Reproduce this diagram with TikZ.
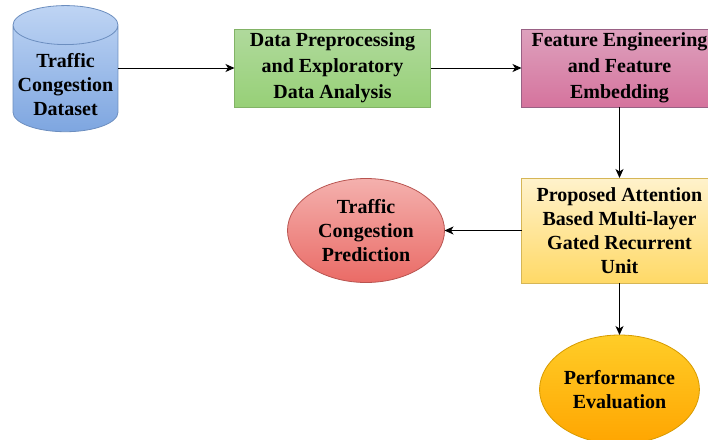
\documentclass[tikz,border=0pt]{standalone}
\usepackage{fontspec}
\setmainfont{Liberation Serif}
\usetikzlibrary{positioning,arrows.meta,shapes.geometric}

\definecolor{cylfill}{HTML}{DAE8FC}\definecolor{cylgrad}{HTML}{7EA6E0}\definecolor{cylline}{HTML}{6C8EBF}
\definecolor{grnfill}{HTML}{D5E8D4}\definecolor{grngrad}{HTML}{97D077}\definecolor{grnline}{HTML}{82B366}
\definecolor{pnkfill}{HTML}{E6D0DE}\definecolor{pnkgrad}{HTML}{D5739D}\definecolor{pnkline}{HTML}{996185}
\definecolor{ylwfill}{HTML}{FFF2CC}\definecolor{ylwgrad}{HTML}{FFD966}\definecolor{ylwline}{HTML}{D6B656}
\definecolor{redfill}{HTML}{F8CECC}\definecolor{redgrad}{HTML}{EA6B66}\definecolor{redline}{HTML}{B85450}
\definecolor{orgfill}{HTML}{FFCD28}\definecolor{orggrad}{HTML}{FFA500}\definecolor{orgline}{HTML}{D79B00}

\begin{document}
\begin{tikzpicture}[
  x=1pt, y=1pt,
  every node/.style={outer sep=0pt, inner sep=1pt, align=center,
    font=\fontsize{20}{24}\selectfont\bfseries},
  box/.style={draw, line width=0.8pt, minimum width=196pt, minimum height=78pt},
  oval/.style={ellipse, draw, line width=0.8pt, minimum width=157pt, minimum height=104pt},
  store/.style={cylinder, shape border rotate=90, aspect=0.4, draw, line width=0.8pt,
    minimum width=105pt, minimum height=110pt, text height=69pt, text depth=-3pt},
  arr/.style={-{Stealth[length=9pt, width=8pt, inset=2.5pt]}, line width=1pt}
]
\useasboundingbox (0,0) rectangle (708,-439);
\node[store, top color=cylfill!70!cylgrad, bottom color=cylgrad, draw=cylline] (data) at (65.5,-80.5) {Traffic\\ Congestion\\ Dataset};
\node[box, top color=grnfill!40!grngrad, bottom color=grngrad, draw=grnline, font=\fontsize{20}{26}\selectfont\bfseries] (prep) at (332.5,-68) {Data Preprocessing\\ and Exploratory\\ Data Analysis};
\node[box, top color=pnkfill!50!pnkgrad, bottom color=pnkgrad, draw=pnkline, right=91pt of prep, font=\fontsize{20}{26}\selectfont\bfseries] (feat) {Feature Engineering\\ and Feature\\ Embedding};
\node[box, top color=ylwfill, bottom color=ylwgrad, draw=ylwline, below=71pt of feat, minimum height=105pt] (model) {Proposed Attention\\ Based Multi-layer\\ Gated Recurrent\\ Unit};
\node[oval, top color=redfill!70!redgrad, bottom color=redgrad, draw=redline, left=77pt of model] (pred) {Traffic\\ Congestion\\ Prediction};
\node[oval, top color=orgfill, bottom color=orggrad, draw=orgline, below=52pt of model, minimum height=109pt] (eval) {Performance\\ Evaluation};
\draw[arr] (data.east |- prep.west) -- (prep.west);
\draw[arr] (prep) -- (feat);
\draw[arr] (feat) -- (model);
\draw[arr] (model) -- (pred);
\draw[arr] (model) -- (eval);
\end{tikzpicture}
\end{document}
